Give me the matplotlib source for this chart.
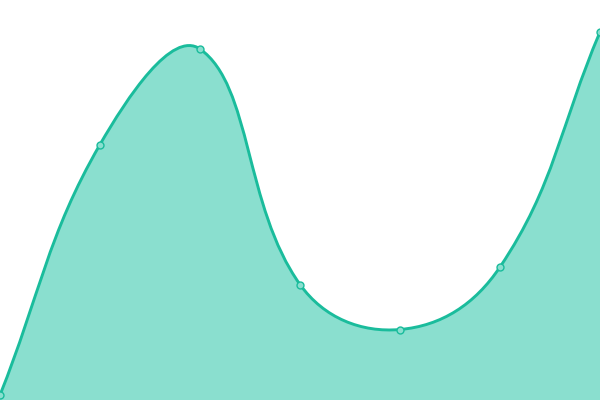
import matplotlib
matplotlib.use("Agg")
import matplotlib.pyplot as plt
import numpy as np
from matplotlib.path import Path
from matplotlib.patches import PathPatch

categories = [0, 1, 2, 3, 4, 5, 6]
values = [5, 255.5, 351, 115.5, 70.5, 133, 368]

LINE = "#1abc9c"
FILL = "#8adfcf"
TENSION = 0.4

fig = plt.figure(figsize=(6, 4), dpi=100)
ax = fig.add_axes([0, 0, 1, 1])
ax.set_xlim(0, 6)
ax.set_ylim(0, 400)
ax.axis("off")

# compute Chart.js-style spline control points in display space
pts = ax.transData.transform(np.column_stack([categories, values]))
n = len(pts)
verts = [pts[0]]
codes = [Path.MOVETO]
cps = []
for i in range(n):
    prev = pts[i - 1] if i > 0 else pts[i]
    cur = pts[i]
    nxt = pts[i + 1] if i < n - 1 else pts[i]
    d01 = np.hypot(*(cur - prev))
    d12 = np.hypot(*(nxt - cur))
    tot = d01 + d12
    s01 = d01 / tot if tot else 0
    s12 = d12 / tot if tot else 0
    fa = TENSION * s01
    fb = TENSION * s12
    cps.append((cur - fa * (nxt - prev), cur + fb * (nxt - prev)))
for i in range(n - 1):
    verts += [cps[i][1], cps[i + 1][0], pts[i + 1]]
    codes += [Path.CURVE4] * 3
inv = ax.transData.inverted()
dverts = inv.transform(np.array(verts))

line_path = Path(dverts, codes)
fill_verts = list(dverts) + [(categories[-1], 0), (categories[0], 0), dverts[0]]
fill_codes = codes + [Path.LINETO, Path.LINETO, Path.CLOSEPOLY]
ax.add_patch(PathPatch(Path(fill_verts, fill_codes), facecolor=FILL, edgecolor="none", zorder=1))
ax.add_patch(PathPatch(line_path, facecolor="none", edgecolor=LINE, lw=2.1, zorder=2))
ax.plot(categories, values, "o", ms=5, mfc=FILL, mec=LINE, mew=1, zorder=3, clip_on=True)

fig.savefig("out.png", dpi=100)
